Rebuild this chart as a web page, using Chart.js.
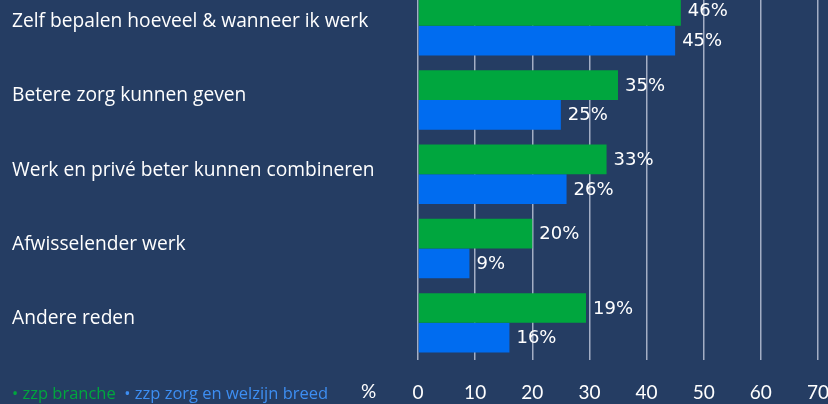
<!DOCTYPE html>
<html>
<head>
<meta charset="utf-8">
<script src="https://cdn.jsdelivr.net/npm/chart.js@4"></script>
<style>
  html, body { margin:0; padding:0; width:828px; height:404px; overflow:hidden; background:#253d63; }
  #wrap { position:absolute; left:0; top:-23px; width:850px; height:427px; }
  .legend { position:absolute; top:381px; left:12px; font-family:"Open Sans", sans-serif; font-size:16.5px; white-space:nowrap; }
  .pct { position:absolute; top:379px; left:361px; font-family:Lato, sans-serif; font-size:19px; color:#ffffff; }
</style>
</head>
<body>
<div id="wrap"><canvas id="c"></canvas></div>
<div class="legend"><span style="color:#00a63e">• zzp branche</span>&nbsp; <span style="color:#3d8ef2">• zzp zorg en welzijn breed</span></div>
<div class="pct">%</div>
<script>
const categories = [
  "Zelf bepalen hoeveel & wanneer ik werk",
  "Betere zorg kunnen geven",
  "Werk en privé beter kunnen combineren",
  "Afwisselender werk",
  "Andere reden"
];
const branche = [46, 35, 33, 20, 29.4];
const brancheLabels = ["46%", "35%", "33%", "20%", "19%"];
const breed = [45, 25, 26, 9, 16];
const breedLabels = ["45%", "25%", "26%", "9%", "16%"];
const xTicks = [0, 10, 20, 30, 40, 50, 60, 70];

const valueLabels = {
  id: 'valueLabels',
  afterDatasetsDraw(chart) {
    const ctx = chart.ctx;
    ctx.save();
    ctx.font = '18px "DejaVu Sans", sans-serif';
    ctx.fillStyle = '#ffffff';
    ctx.textAlign = 'left';
    ctx.textBaseline = 'middle';
    chart.data.datasets.forEach((ds, di) => {
      chart.getDatasetMeta(di).data.forEach((bar, i) => {
        ctx.fillText(ds.valueText[i], bar.x + 7, bar.y + 1);
      });
    });
    ctx.restore();
  }
};

new Chart(document.getElementById('c'), {
  type: 'bar',
  data: {
    labels: categories,
    datasets: [
      { label: 'zzp branche', data: branche, valueText: brancheLabels, backgroundColor: '#00a63e', categoryPercentage: 0.8, barPercentage: 1.0 },
      { label: 'zzp zorg en welzijn breed', data: breed, valueText: breedLabels, backgroundColor: '#006cf0', categoryPercentage: 0.8, barPercentage: 1.0 }
    ]
  },
  options: {
    indexAxis: 'y',
    responsive: true,
    maintainAspectRatio: false,
    animation: false,
    layout: { padding: { left: 12, right: 31, top: 0, bottom: 0 } },
    plugins: { legend: { display: false }, tooltip: { enabled: false } },
    scales: {
      x: {
        min: 0, max: 70,
        afterBuildTicks(scale) { scale.ticks = xTicks.map(v => ({ value: v })); },
        afterFit(scale) { scale.height = 44; },
        grid: { color: '#a3aec4', lineWidth: 1.5, drawTicks: false },
        border: { display: false },
        ticks: { color: '#ffffff', padding: 21, font: { family: 'Lato', size: 19 }, maxRotation: 0 }
      },
      y: {
        afterFit(scale) { scale.width = 406; },
        grid: { display: false },
        border: { display: false },
        ticks: { color: '#ffffff', crossAlign: 'far', labelOffset: -4, padding: 0, font: { family: 'Open Sans', size: 19.2 } }
      }
    }
  },
  plugins: [valueLabels]
});
</script>
</body>
</html>
